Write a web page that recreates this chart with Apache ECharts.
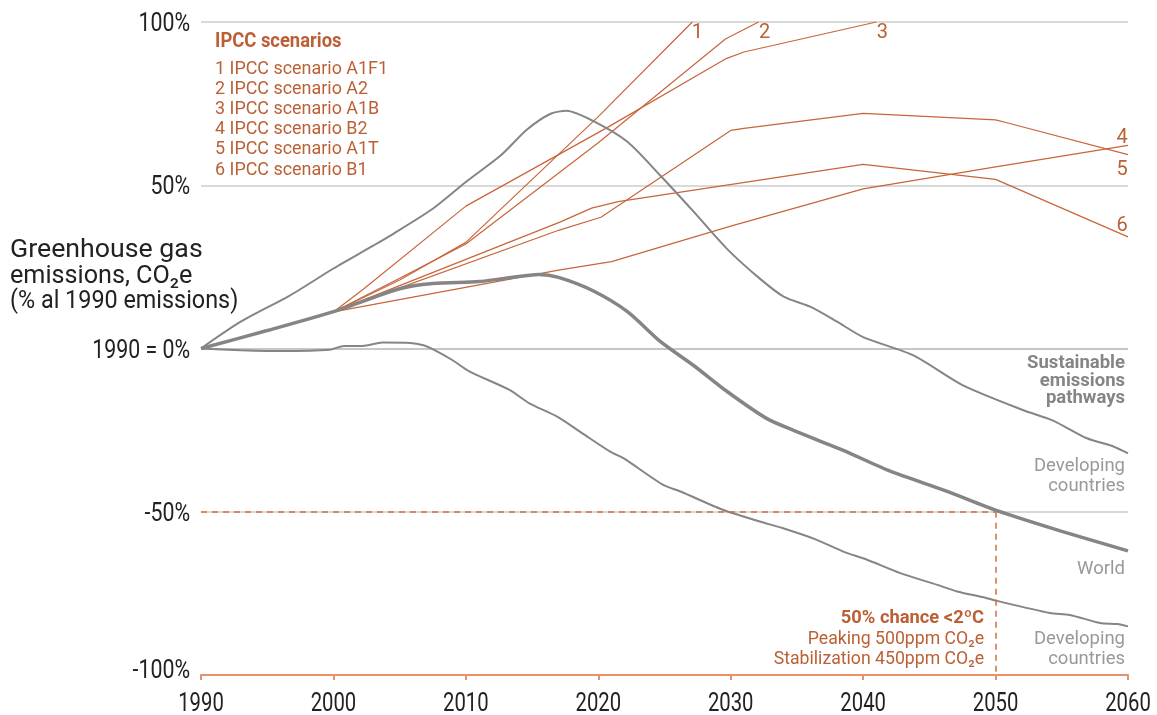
<!DOCTYPE html>
<html><head><meta charset="utf-8">
<script src="https://cdn.jsdelivr.net/npm/echarts@6/dist/echarts.min.js"></script>
<style>html,body{margin:0;padding:0;background:#fff}#c{width:1157px;height:715px}</style>
</head><body><div id="c"></div>
<script>
const FONT = "Roboto,'Noto Sans',sans-serif";
const ORANGE = '#c8653a';
const ORANGE_TXT = '#bb5f35';
const GRAY = '#858585';

const xTicks = [1990, 2000, 2010, 2020, 2030, 2040, 2050, 2060];
const yTicks = [100, 50, 0, -50, -100];
const yTickLabels = ['100%', '50%', '1990 = 0%', '-50%', '-100%'];

const scenarioNames = ['1 IPCC scenario A1F1','2 IPCC scenario A2','3 IPCC scenario A1B','4 IPCC scenario B2','5 IPCC scenario A1T','6 IPCC scenario B1'];

const a1f1 = [[2000,11.2],[2005,21],[2010,32.5],[2020,71],[2027.1,100]];
const a2   = [[2000,11.2],[2005,21.5],[2010,32],[2020,63],[2029.6,94.8],[2032.1,100]];
const a1b  = [[2000,11.2],[2002.3,18.3],[2010,43.6],[2020.6,67.5],[2029.6,88.7],[2031,90.8],[2041,100]];
const b2   = [[2000,11.2],[2017,24],[2021,26.6],[2030,37.5],[2040,48.9],[2050,55.6],[2060,62.2]];
const a1t  = [[2000,11.2],[2017,36.2],[2020.2,40.2],[2030,66.8],[2031,67.4],[2040,72],[2050,70],[2051,69],[2060,59.4]];
const b1   = [[2000,11.2],[2017.1,38.7],[2019.5,43],[2021.5,45],[2040,56.4],[2050,51.8],[2060,34.2]];

const devHigh = [[1990,0],[1993,8.2],[1996.7,16.2],[2000,24.5],[2003,31.5],[2004.3,34.6],[2007.5,42.8],[2010,51],[2012.6,59],[2014.6,67],[2016.4,71.9],[2017.6,72.8],[2019.6,69.7],[2022.2,63.3],[2024.7,52.9],[2027.2,41.9],[2029.7,30.6],[2032.2,21.4],[2034,15.9],[2036,12.8],[2038,8.3],[2040,3.5],[2043.8,-2.1],[2047.5,-11.2],[2052.1,-18.9],[2054.3,-22],[2056.9,-27.5],[2058.9,-30],[2060,-32.1]];
const world = [[1990,0],[1995,5.5],[2000,11.3],[2005,18.3],[2007.5,19.9],[2011,20.5],[2013,21.5],[2015.5,22.7],[2017,21.8],[2019.6,17.7],[2022.2,11.3],[2024.7,2.1],[2027.2,-5.2],[2029.7,-13.1],[2032.7,-21.4],[2034.7,-25],[2038.5,-31.2],[2042,-37.5],[2046.3,-43.7],[2050,-49.5],[2055,-56],[2060,-62]];
const devLow = [[1990,0],[1993,-0.5],[1996,-0.8],[1999.7,-0.4],[2000.8,0.8],[2002.2,0.8],[2003.7,1.8],[2005.8,1.7],[2006.8,1],[2007.5,-0.2],[2009,-3.6],[2010.3,-7.1],[2013.3,-12.7],[2014.8,-16.8],[2016.9,-20.9],[2018.8,-26],[2020.9,-31.6],[2021.9,-33.6],[2024.9,-41.8],[2026.2,-43.8],[2029.4,-49.4],[2032.2,-53],[2033.9,-55],[2036.5,-58.6],[2038.5,-62.2],[2040.3,-64.7],[2042.8,-68.8],[2045.6,-72.4],[2047.1,-74.4],[2049.1,-76.2],[2050.1,-77.3],[2054.1,-81],[2055.6,-81.6],[2057.9,-84.1],[2059.2,-84.4],[2060,-85.1]];

const target = {year: 2050, value: -50, floor: -100, start: 1990};

const chart = echarts.init(document.getElementById('c'), null, {renderer:'canvas'});

function scen(name, data, num, offset){
  return {
    type:'line', name, data, showSymbol:false, silent:true,
    lineStyle:{color:ORANGE, width:1.2}, z:2,
    endLabel:{show:true, formatter:String(num), color:ORANGE_TXT, fontFamily:FONT, fontSize:20, offset, distance:0, align:'center', verticalAlign:'middle'}
  };
}
function grayLine(name, data, width){
  return {type:'line', name, data, showSymbol:false, silent:true, smooth:0.25,
    lineStyle:{color:GRAY, width}, z:3};
}

const worldSeries = grayLine('World', world, 3.5);
worldSeries.markLine = {
  silent:true, symbol:'none', label:{show:false},
  lineStyle:{color:'#d0703f', type:[6,5], width:1.5},
  data:[
    [{coord:[target.start, target.value]}, {coord:[target.year, target.value]}],
    [{coord:[target.year, target.value]}, {coord:[target.year, target.floor]}]
  ]
};

chart.setOption({
  animation:false,
  backgroundColor:'#fff',
  grid:{left:201, right:29, top:22, bottom:40},
  xAxis:{type:'value', min:1990, max:2060, interval:10,
    axisLine:{show:true, onZero:false, lineStyle:{color:'#e8906a', width:2}},
    axisTick:{show:true, length:5, lineStyle:{color:'#e8906a', width:2}},
    axisLabel:{show:false},
    splitLine:{show:false}},
  yAxis:{type:'value', min:-100, max:100, interval:50,
    axisLine:{show:false}, axisTick:{show:false},
    axisLabel:{show:false},
    splitLine:{show:true, lineStyle:{color:['#ccc','#ccc','#b5b5b5','#ccc','#ccc'], width:1.5}}},
  series:[
    scen('A1F1', a1f1, 1, [5, 11]),
    scen('A2', a2, 2, [6, 11]),
    scen('A1B', a1b, 3, [6, 11]),
    scen('B2', b2, 4, [-6, -7]),
    scen('A1T', a1t, 5, [-6, 15]),
    scen('B1', b1, 6, [-6, -11]),
    grayLine('Developing countries (high)', devHigh, 2),
    worldSeries,
    grayLine('Developing countries (low)', devLow, 2)
  ]
});

// text helper: (x,y) = anchor point, y is vertical middle
function txt(x, y, text, o){
  o = o || {};
  const size = o.size || 18.5;
  return {type:'text', x, y, scaleX:o.scale || 1, scaleY:1, silent:true, z:10,
    style:{text, x:0, y:0, fill:o.fill || '#999',
      font:(o.bold?'bold ':'') + size + 'px ' + FONT,
      align:o.align || 'left', textAlign:o.align || 'left',
      verticalAlign:'middle', textVerticalAlign:'middle'}};
}

const g = [];
// axis tick labels placed through the chart's own scale
xTicks.forEach(v => {
  const p = chart.convertToPixel({gridIndex:0}, [v, -100]);
  g.push(txt(p[0], p[1] + 29, String(v), {size:26, scale:0.78, fill:'#222', align:'center'}));
});
yTicks.forEach((v, i) => {
  const p = chart.convertToPixel({gridIndex:0}, [1990, v]);
  g.push(txt(p[0] - 11, p[1] + 2.5 + (v === -100 ? -6 : 0), yTickLabels[i], {size:26, scale:0.82, fill:'#222', align:'right'}));
});

g.push(txt(215, 41.8, 'IPCC scenarios', {size:20, bold:true, scale:0.92, fill:ORANGE_TXT}));
scenarioNames.forEach((t, i) => g.push(txt(215, 69.1 + i*20.2, t, {size:18.3, scale:0.98, fill:ORANGE_TXT})));

const titleLines = ['Greenhouse gas', 'emissions, CO₂e', '(% al 1990 emissions)'];
const titleScales = [1.04, 0.98, 0.91];
titleLines.forEach((t, i) =>
  g.push(txt(10, 250.8 + i*25.6, t, {size:25.7, scale:titleScales[i], fill:'#222'})));

['Sustainable', 'emissions', 'pathways'].forEach((t, i) =>
  g.push(txt(1125, 363.4 + i*17.6, t, {size:18.7, bold:true, scale:0.99, fill:'#858585', align:'right'})));
g.push(txt(1125, 466.7, 'Developing', {size:18.7, scale:0.99, align:'right'}));
g.push(txt(1125, 486.2, 'countries', {size:18.7, scale:0.99, align:'right'}));
g.push(txt(1125, 569.7, 'World', {size:18.7, scale:0.99, align:'right'}));
g.push(txt(1125, 639.7, 'Developing', {size:18.7, scale:0.99, align:'right'}));
g.push(txt(1125, 659.7, 'countries', {size:18.7, scale:0.99, align:'right'}));

g.push(txt(984, 618.7, '50% chance <2ºC', {size:18.7, bold:true, scale:0.98, fill:ORANGE_TXT, align:'right'}));
g.push(txt(984, 639.2, 'Peaking 500ppm CO₂e', {size:18.7, scale:0.945, fill:ORANGE_TXT, align:'right'}));
g.push(txt(984, 659.5, 'Stabilization 450ppm CO₂e', {size:18.7, scale:0.945, fill:ORANGE_TXT, align:'right'}));

chart.setOption({graphic:g});
</script></body></html>
